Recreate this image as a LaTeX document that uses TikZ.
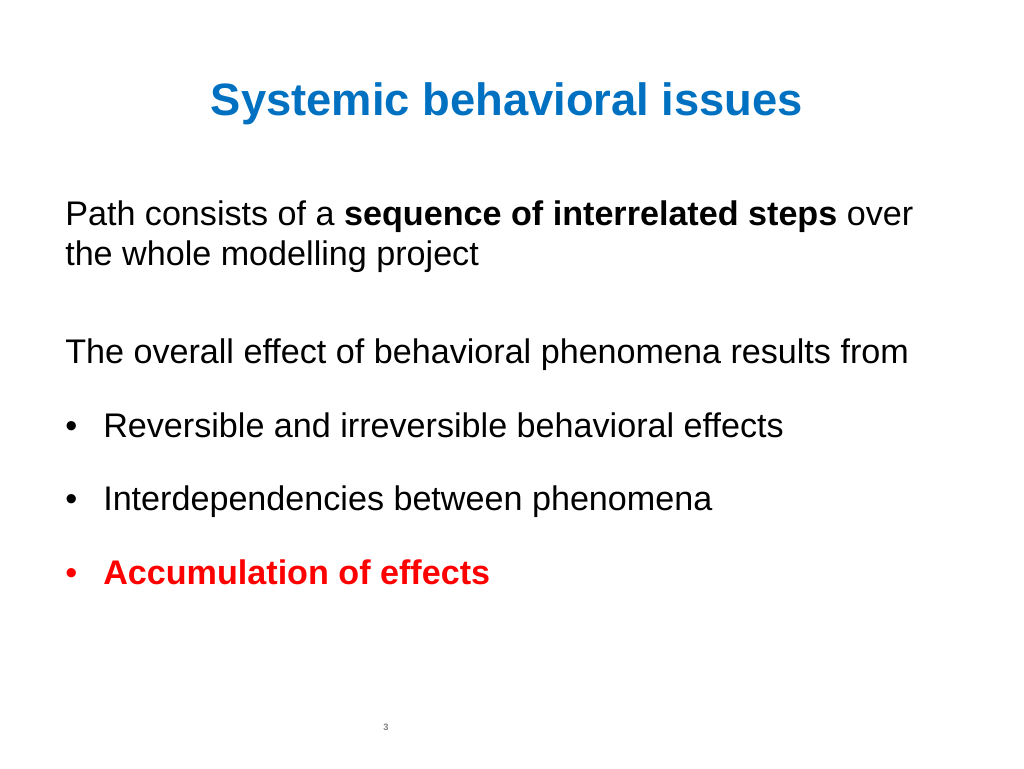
\documentclass[tikz,border=0pt]{standalone}
\usepackage{fontspec}
\setmainfont{Liberation Sans}
\usepackage{xcolor}
\definecolor{titleblue}{RGB}{0,112,192}
\definecolor{accred}{RGB}{255,0,0}
\usetikzlibrary{positioning}

\begin{document}
\begin{tikzpicture}[x=0.75pt,y=-0.75pt,
  body/.style={anchor=base west,inner sep=0pt,font=\fontsize{25.6}{30}\selectfont},
  bullet/.style={body}]
\useasboundingbox (0,0) rectangle (1024,768);
\node[anchor=base,inner sep=0pt,text=titleblue,font=\fontsize{34}{40}\selectfont\bfseries] (title) at (507,115) {Systemic behavioral issues};
\node[body] (path1) at (65,225) {Path consists of a \textbf{sequence of interrelated steps} over};
\node[body] (path2) at (65,265) {the whole modelling project};
\node[body] (overall) at (65,363) {The overall effect of behavioral phenomena results from};
\foreach \y/\name/\txt in {437/rev/Reversible and irreversible behavioral effects,
                          510/inter/Interdependencies between phenomena}
{
  \node[bullet] (\name dot) at (65,\y) {\textbullet};
  \node[body] (\name) at (103,\y) {\txt};
}
\node[bullet,text=accred] (accdot) at (65,584) {\textbullet};
\node[body,text=accred,font=\fontsize{25.6}{30}\selectfont\bfseries] (acc) at (103,584) {Accumulation of effects};
\node[anchor=base,inner sep=0pt,text=gray,font=\fontsize{7}{8}\selectfont\bfseries] (page) at (386,730) {3};
\end{tikzpicture}
\end{document}
